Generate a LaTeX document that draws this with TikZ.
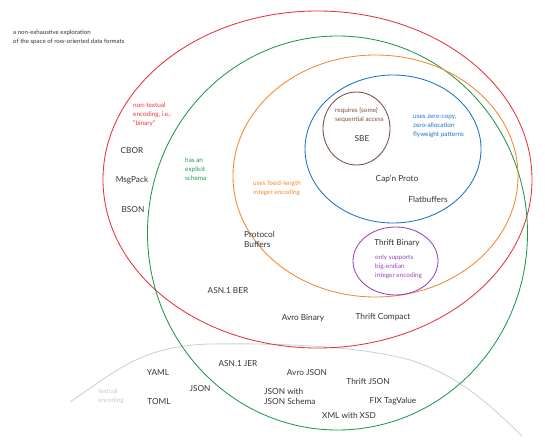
\documentclass[tikz,border=0pt]{standalone}
\usepackage{fontspec}
\setmainfont{Lato}
\definecolor{cred}{HTML}{E8333A}
\definecolor{cgreen}{HTML}{1E9A4C}
\definecolor{corange}{HTML}{F5872E}
\definecolor{cblue}{HTML}{1B72C6}
\definecolor{cbrown}{HTML}{7A4E42}
\definecolor{cpurple}{HTML}{9A42BE}
\definecolor{cgrayline}{HTML}{C9D1D9}
\definecolor{cgraytext}{HTML}{C3CAD2}
\definecolor{ctext}{HTML}{333333}
\tikzset{
  fmt/.style={font=\fontsize{8.3}{9}\selectfont, text=ctext, inner sep=0pt},
  fmtl/.style={fmt, anchor=west, align=left},
  note/.style={font=\fontsize{6.4}{9}\selectfont, inner sep=0pt, anchor=west, align=left},
  setline/.style={line width=0.85bp},
}
\begin{document}
\begin{tikzpicture}[x=1bp,y=-1bp]
\useasboundingbox (0,0) rectangle (545,444);
% textual encoding curve
\draw[setline, cgrayline] (70,402) .. controls (115,372) and (140,346) .. (210,344)
  .. controls (280,343) and (360,346) .. (410,360)
  .. controls (460,376) and (490,405) .. (522,436);
% sets
\draw[setline, cred] (317.5,179.5) ellipse [x radius=214.5, y radius=168.5];
\draw[setline, cgreen] (337.5,233) ellipse [x radius=190, y radius=197];
\draw[setline, corange] (375.5,176) ellipse [x radius=142.5, y radius=121];
\draw[setline, cblue] (393,149) ellipse [x radius=88, y radius=74];
\draw[setline, cbrown] (356.5,128.5) ellipse [x radius=33.5, y radius=36.5];
\draw[setline, cpurple] (395.5,261) ellipse [x radius=42.5, y radius=34];
% title
\node[note, text=ctext, font=\fontsize{6.1}{9}\selectfont] (title) at (13,37.5) {a non-exhaustive exploration\\of the space of row-oriented data formats};
% annotations
\node[note, text=cred] (nred) at (133,115) {non-textual\\encoding, i.e.,\\"binary"};
\node[note, text=cgreen] (ngreen) at (185,169.5) {has an\\explicit\\schema};
\node[note, text=corange] (norange) at (253,188.5) {uses fixed-length\\integer encoding};
\node[note, text=cbrown] (nbrown) at (335,115.5) {requires [some]\\sequential access};
\node[note, text=cblue] (nblue) at (413,126) {uses zero-copy,\\zero-allocation\\flyweight patterns};
\node[note, text=cpurple] (npurple) at (375,267) {only supports\\big-endian\\integer encoding};
\node[note, text=cgraytext] (ngray) at (98,396.5) {textual\\encoding};
% formats
\node[fmt] (cbor) at (132,151) {CBOR};
\node[fmt] (msgpack) at (132,180) {MsgPack};
\node[fmt] (bson) at (133,210) {BSON};
\node[fmtl, font=\fontsize{8.3}{11}\selectfont] (protobuf) at (244,239.5) {Protocol\\Buffers};
\node[fmt] (sbe) at (362,139) {SBE};
\node[fmt] (capn) at (397,179) {Cap'n Proto};
\node[fmt] (flatb) at (428,199) {Flatbuffers};
\node[fmt] (thriftbin) at (397,243) {Thrift Binary};
\node[fmt] (thriftcomp) at (383,317) {Thrift Compact};
\node[fmt] (asnber) at (228,291) {ASN.1 BER};
\node[fmt] (avrobin) at (303,318) {Avro Binary};
\node[fmt] (yaml) at (158,373) {YAML};
\node[fmt] (toml) at (159,402) {TOML};
\node[fmt] (json) at (200,389) {JSON};
\node[fmt] (asnjer) at (238,364) {ASN.1 JER};
\node[fmt] (avrojson) at (307,373) {Avro JSON};
\node[fmtl, font=\fontsize{8.3}{11}\selectfont] (jsonschema) at (264,396.5) {JSON with\\JSON Schema};
\node[fmt] (thriftjson) at (368,381) {Thrift JSON};
\node[fmt] (fix) at (393,401) {FIX TagValue};
\node[fmt] (xml) at (349,415) {XML with XSD};
\end{tikzpicture}
\end{document}
